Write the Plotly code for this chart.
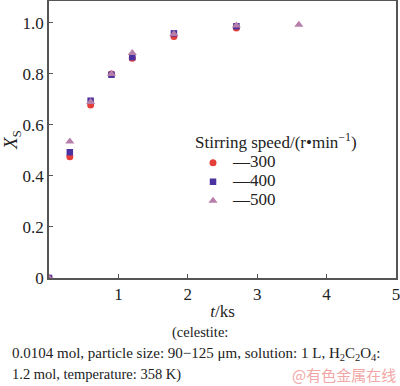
import plotly.graph_objects as go

t_300 = [0, 0.3, 0.6, 0.9, 1.2, 1.8, 2.7]
x_300 = [0.0, 0.475, 0.678, 0.800, 0.862, 0.947, 0.980]
t_400 = [0, 0.3, 0.6, 0.9, 1.2, 1.8, 2.7]
x_400 = [0.0, 0.493, 0.695, 0.797, 0.866, 0.959, 0.987]
t_500 = [0, 0.3, 0.6, 0.9, 1.2, 1.8, 2.7, 3.6]
x_500 = [0.0, 0.535, 0.690, 0.800, 0.882, 0.957, 0.990, 0.993]

series_names = ["—300", "—400", "—500"]
xtick_vals = [0, 1, 2, 3, 4, 5]
xtick_text = ["", "1", "2", "3", "4", "5"]
ytick_vals = [0, 0.2, 0.4, 0.6, 0.8, 1.0]
ytick_text = ["0", "0.2", "0.4", "0.6", "0.8", "1.0"]

FONT = "Liberation Serif"
TXT = "#222222"


def big(s):
    return '<span style="font-size:17px">' + s + '</span>'


fig = go.Figure()
fig.add_trace(go.Scatter(x=t_300, y=x_300, mode="markers", name=big(series_names[0]),
                         marker=dict(symbol="circle", size=7, color="#e63f3a")))
fig.add_trace(go.Scatter(x=t_400, y=x_400, mode="markers", name=big(series_names[1]),
                         marker=dict(symbol="square", size=6.5, color="#4a32a0")))
fig.add_trace(go.Scatter(x=t_500, y=x_500, mode="markers", name=big(series_names[2]),
                         marker=dict(symbol="triangle-up", size=8, color="#b67fa9")))

axis_common = dict(showgrid=False, zeroline=False, showline=True, linecolor="#555555",
                   linewidth=1.5, mirror=True, ticks="inside", ticklen=4,
                   tickcolor="#555555", tickwidth=1, automargin=False,
                   ticklabeloverflow="allow",
                   tickfont=dict(family=FONT, size=17, color=TXT))

fig.update_xaxes(range=[0, 5], tickvals=xtick_vals, ticktext=xtick_text,
                 title=dict(text="<i>t</i>/ks", font=dict(family=FONT, size=17, color=TXT),
                            standoff=2),
                 **axis_common)
fig.update_yaxes(range=[0, 1.086], tickvals=ytick_vals, ticktext=ytick_text,
                 title=dict(text="<i>X</i><sub>S</sub>", font=dict(family=FONT, size=19, color=TXT),
                            standoff=2),
                 **axis_common)

fig.update_layout(
    width=400, height=386,
    margin=dict(l=49, r=4, t=1, b=108),
    paper_bgcolor="white", plot_bgcolor="white",
    font=dict(family=FONT, size=17, color=TXT),
    showlegend=True,
    legend=dict(x=0.415, y=0.548, xanchor="left", yanchor="top",
                bgcolor="rgba(0,0,0,0)", borderwidth=0,
                font=dict(family=FONT, size=11, color=TXT),
                tracegroupgap=0, itemwidth=30,
                title=dict(text="Stirring speed/(r•min<sup>−1</sup>)",
                           font=dict(family=FONT, size=17, color=TXT))),
    annotations=[
        dict(text="(celestite:", xref="paper", yref="paper", x=0.435, y=-0.198,
             xanchor="center", yanchor="middle", showarrow=False,
             font=dict(family=FONT, size=14.5, color=TXT)),
        dict(text="0.0104 mol, particle size: 90−125 μm, solution: 1 L, H<sub>2</sub>C<sub>2</sub>O<sub>4</sub>:",
             xref="paper", yref="paper", x=-0.112, y=-0.273,
             xanchor="left", yanchor="middle", showarrow=False,
             font=dict(family=FONT, size=15, color=TXT)),
        dict(text="1.2 mol, temperature: 358 K)", xref="paper", yref="paper", x=-0.112, y=-0.35,
             xanchor="left", yanchor="middle", showarrow=False,
             font=dict(family=FONT, size=14.5, color=TXT)),
        dict(text="@有色金属在线", xref="paper", yref="paper", x=1.006, y=-0.35,
             xanchor="right", yanchor="middle", showarrow=False,
             font=dict(family="Noto Sans CJK SC", size=15, color="#f2a7a7")),
    ],
)

fig.write_html("out.html", config={"displayModeBar": False},
               post_script="document.body.style.margin='0';")
